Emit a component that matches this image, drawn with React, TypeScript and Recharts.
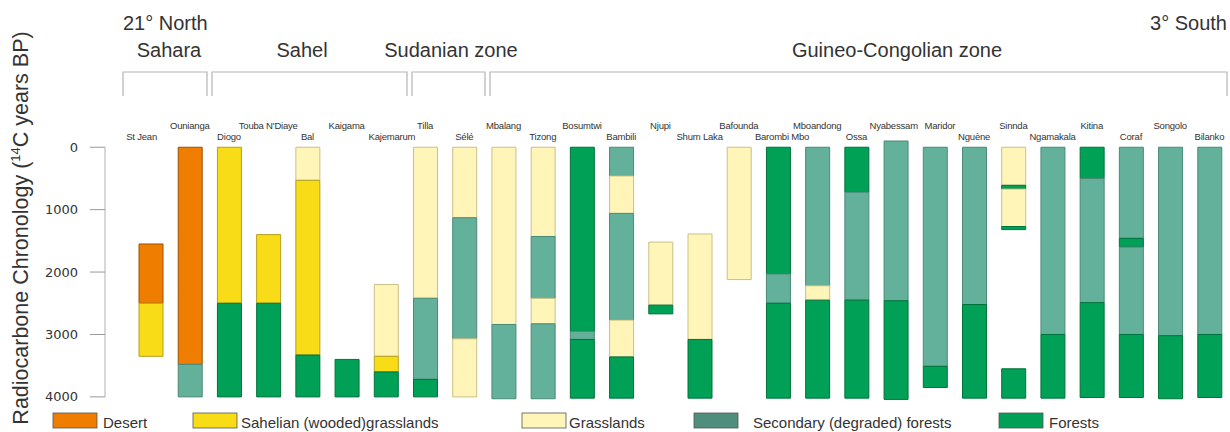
import React from "react";
import { BarChart, Bar, XAxis, YAxis, Cell } from "recharts";

// sites from north (left) to south (right)
const SITES = [
  "St Jean", "Ounianga", "Diogo", "Touba N'Diaye", "Bal", "Kaigama", "Kajemarum",
  "Tilla", "Sélé", "Mbalang", "Tizong", "Bosumtwi", "Bambili", "Njupi", "Shum Laka",
  "Bafounda", "Barombi Mbo", "Mboandong", "Ossa", "Nyabessam", "Maridor", "Nguène",
  "Sinnda", "Ngamakala", "Kitina", "Coraf", "Songolo", "Bilanko",
];

// names printed on the upper row of labels
const UPPER_ROW = [
  "Ounianga", "Touba N'Diaye", "Kaigama", "Tilla", "Mbalang", "Bosumtwi", "Njupi",
  "Bafounda", "Mboandong", "Nyabessam", "Maridor", "Sinnda", "Kitina", "Songolo",
];

// top of each record (14C yr BP)
const START = [
  1550, 0, 0, 1400, 0, 3400, 2200, 0, 0, 0, 0, 0, 0, 1520, 1390,
  0, 0, 0, 0, -100, 0, 0, 0, 0, 0, 0, 0, 0,
];

// vegetation of each segment, top to bottom
// D desert, S sahelian, G grasslands, X secondary forest, F forest, "-" no record
const VEG = [
  ["D", "S"],
  ["D", "X"],
  ["S", "F"],
  ["S", "F"],
  ["G", "S", "F"],
  ["F"],
  ["G", "S", "F"],
  ["G", "X", "F"],
  ["G", "X", "G"],
  ["G", "X"],
  ["G", "X", "G", "X"],
  ["F", "X", "F"],
  ["X", "G", "X", "G", "F"],
  ["G", "F"],
  ["G", "F"],
  ["G"],
  ["F", "X", "F"],
  ["X", "G", "F"],
  ["F", "X", "F"],
  ["X", "F"],
  ["X", "F"],
  ["X", "F"],
  ["G", "F", "G", "F", "-", "F"],
  ["X", "F"],
  ["F", "X", "F"],
  ["X", "F", "X", "F"],
  ["X", "F"],
  ["X", "F"],
];

// lower boundary of each segment
const ENDS = [
  [2500, 3350],
  [3480, 4000],
  [2500, 4000],
  [2500, 4000],
  [530, 3330, 4000],
  [4000],
  [3350, 3600, 4000],
  [2420, 3720, 4000],
  [1130, 3070, 4000],
  [2840, 4030],
  [1430, 2420, 2830, 4030],
  [2950, 3080, 4020],
  [460, 1060, 2770, 3360, 4020],
  [2530, 2670],
  [3080, 4020],
  [2120],
  [2030, 2500, 4020],
  [2220, 2450, 4020],
  [720, 2450, 4020],
  [2460, 4040],
  [3510, 3850],
  [2520, 4020],
  [610, 670, 1270, 1320, 3550, 4020],
  [3000, 4020],
  [500, 2490, 4010],
  [1460, 1600, 3000, 4010],
  [3020, 4030],
  [3000, 4010],
];

const Y_TICKS = [0, 1000, 2000, 3000, 4000];
const Y_DOMAIN = [-100, 4050];

const LEGEND_KEYS = ["D", "S", "G", "X", "F"];
const LEGEND_LABELS = [
  "Desert",
  "Sahelian (wooded)grasslands",
  "Grasslands",
  "Secondary (degraded) forests",
  "Forests",
];

const ZONES = ["Sahara", "Sahel", "Sudanian zone", "Guineo-Congolian zone"];

const FILL: Record<string, string> = {
  D: "#EE7D00",
  S: "#F8DC17",
  G: "#FFF5B9",
  X: "#63B09B",
  F: "#00A156",
  "-": "none",
};
const EDGE: Record<string, string> = {
  D: "#9a5200",
  S: "#b3a020",
  G: "#cbbf86",
  X: "#4b8a78",
  F: "#00733c",
  "-": "none",
};
const LEGEND_FILL: Record<string, string> = { ...FILL, X: "#4F8D7D" };

const FONT = "'Liberation Sans', Arial, sans-serif";
const MAX_SEG = 6;

const rows = SITES.map((name, i) => {
  const row: Record<string, any> = { name, off: START[i], veg: VEG[i] };
  let prev = START[i];
  for (let k = 0; k < MAX_SEG; k++) {
    const end = ENDS[i][k];
    row[`s${k}`] = end === undefined ? 0 : end - prev;
    if (end !== undefined) prev = end;
  }
  return row;
});

const W = 1230;
const H = 432;
const MARGIN = { top: 121, right: 1, bottom: 32, left: 0 };
const X_AXIS_H = 20;
const PLOT_H = H - MARGIN.top - MARGIN.bottom - X_AXIS_H;

// hide the part of the axis line outside 0..4000
const span = Y_DOMAIN[1] - Y_DOMAIN[0];
const gapTop = ((0 - Y_DOMAIN[0]) / span) * PLOT_H;
const lineLen = ((4000 - 0) / span) * PLOT_H;
const axisDash = `0 ${gapTop} ${lineLen} ${PLOT_H}`;

// small horizontal nudges of a few labels, as in the figure
const LABEL_NUDGE: Record<string, number> = {
  "St Jean": -9,
  Kajemarum: 6,
  Nyabessam: -2,
  Maridor: 5,
  "Barombi Mbo": 4,
};

function SiteTick(props: any) {
  const { x, y, payload } = props;
  const upper = UPPER_ROW.includes(payload.value);
  return (
    <text
      x={x + (LABEL_NUDGE[payload.value] ?? 0)}
      y={y - (upper ? 12 : 1)}
      textAnchor="middle"
      fontSize={9.5}
      letterSpacing={-0.2}
      fontFamily={FONT}
      fill="#333"
    >
      {payload.value}
    </text>
  );
}

// header text positions and brackets
const ZONE_X = [169, 302, 451, 897];
const BRACKETS = [
  [123, 207],
  [212, 407],
  [412, 485],
  [490, 1227],
];
const LEG_SWATCH_X = [53, 193, 522, 694, 999];
const LEG_TEXT_X = [103, 241, 569, 753, 1049];

function Overlay() {
  return (
    <svg
      width={W}
      height={H}
      style={{ position: "absolute", left: 0, top: 0, pointerEvents: "none" }}
      fontFamily={FONT}
    >
      <text x={123} y={30} fontSize={20} fill="#333">21° North</text>
      <text x={1227} y={30} fontSize={20} fill="#333" textAnchor="end">3° South</text>
      {ZONES.map((z, i) => (
        <text key={z} x={ZONE_X[i]} y={57} fontSize={20} fill="#333" textAnchor="middle">
          {z}
        </text>
      ))}
      {BRACKETS.map(([a, b], i) => (
        <path
          key={i}
          d={`M${a},96 V72 H${b} V96`}
          fill="none"
          stroke="#b5b5b5"
          strokeWidth={1.2}
        />
      ))}
      <text
        transform="translate(28,228) rotate(-90)"
        textAnchor="middle"
        fontSize={21.5}
        fill="#333"
      >
        Radiocarbone Chronology (
        <tspan fontSize={13} dy={-8}>14</tspan>
        <tspan dy={8}>C years BP)</tspan>
      </text>
      {LEGEND_KEYS.map((k, i) => (
        <g key={k}>
          <rect
            x={LEG_SWATCH_X[i]}
            y={413}
            width={44}
            height={15}
            fill={LEGEND_FILL[k]}
            stroke="#555"
            strokeWidth={0.8}
          />
          <text x={LEG_TEXT_X[i]} y={428} fontSize={15} fill="#333">
            {LEGEND_LABELS[i]}
          </text>
        </g>
      ))}
    </svg>
  );
}

export default function App() {
  return (
    <div style={{ position: "relative", width: W, height: H, background: "#fff" }}>
      <style>{"body{margin:0}"}</style>
      <BarChart width={W} height={H} data={rows} margin={MARGIN} barSize={24}>
        <XAxis
          dataKey="name"
          orientation="top"
          height={X_AXIS_H}
          padding={{ left: 26, right: 0 }}
          interval={0}
          tickLine={false}
          axisLine={false}
          tickSize={0}
          tickMargin={0}
          tick={<SiteTick />}
        />
        <YAxis
          reversed
          type="number"
          domain={Y_DOMAIN}
          ticks={Y_TICKS}
          width={105}
          tickSize={15}
          tickMargin={12}
          tick={{ fontSize: 13, fill: "#333", fontFamily: "'DejaVu Sans', sans-serif" }}
          tickLine={{ stroke: "#999" }}
          axisLine={{ stroke: "#b0b0b0", strokeDasharray: axisDash }}
        />
        <Bar dataKey="off" stackId="a" fill="none" isAnimationActive={false} />
        {Array.from({ length: MAX_SEG }, (_, k) => (
          <Bar key={k} dataKey={`s${k}`} stackId="a" isAnimationActive={false}>
            {rows.map((r, i) => {
              const v = r.veg[k] ?? "-";
              return <Cell key={i} fill={FILL[v]} stroke={EDGE[v]} strokeWidth={1} />;
            })}
          </Bar>
        ))}
      </BarChart>
      <Overlay />
    </div>
  );
}
